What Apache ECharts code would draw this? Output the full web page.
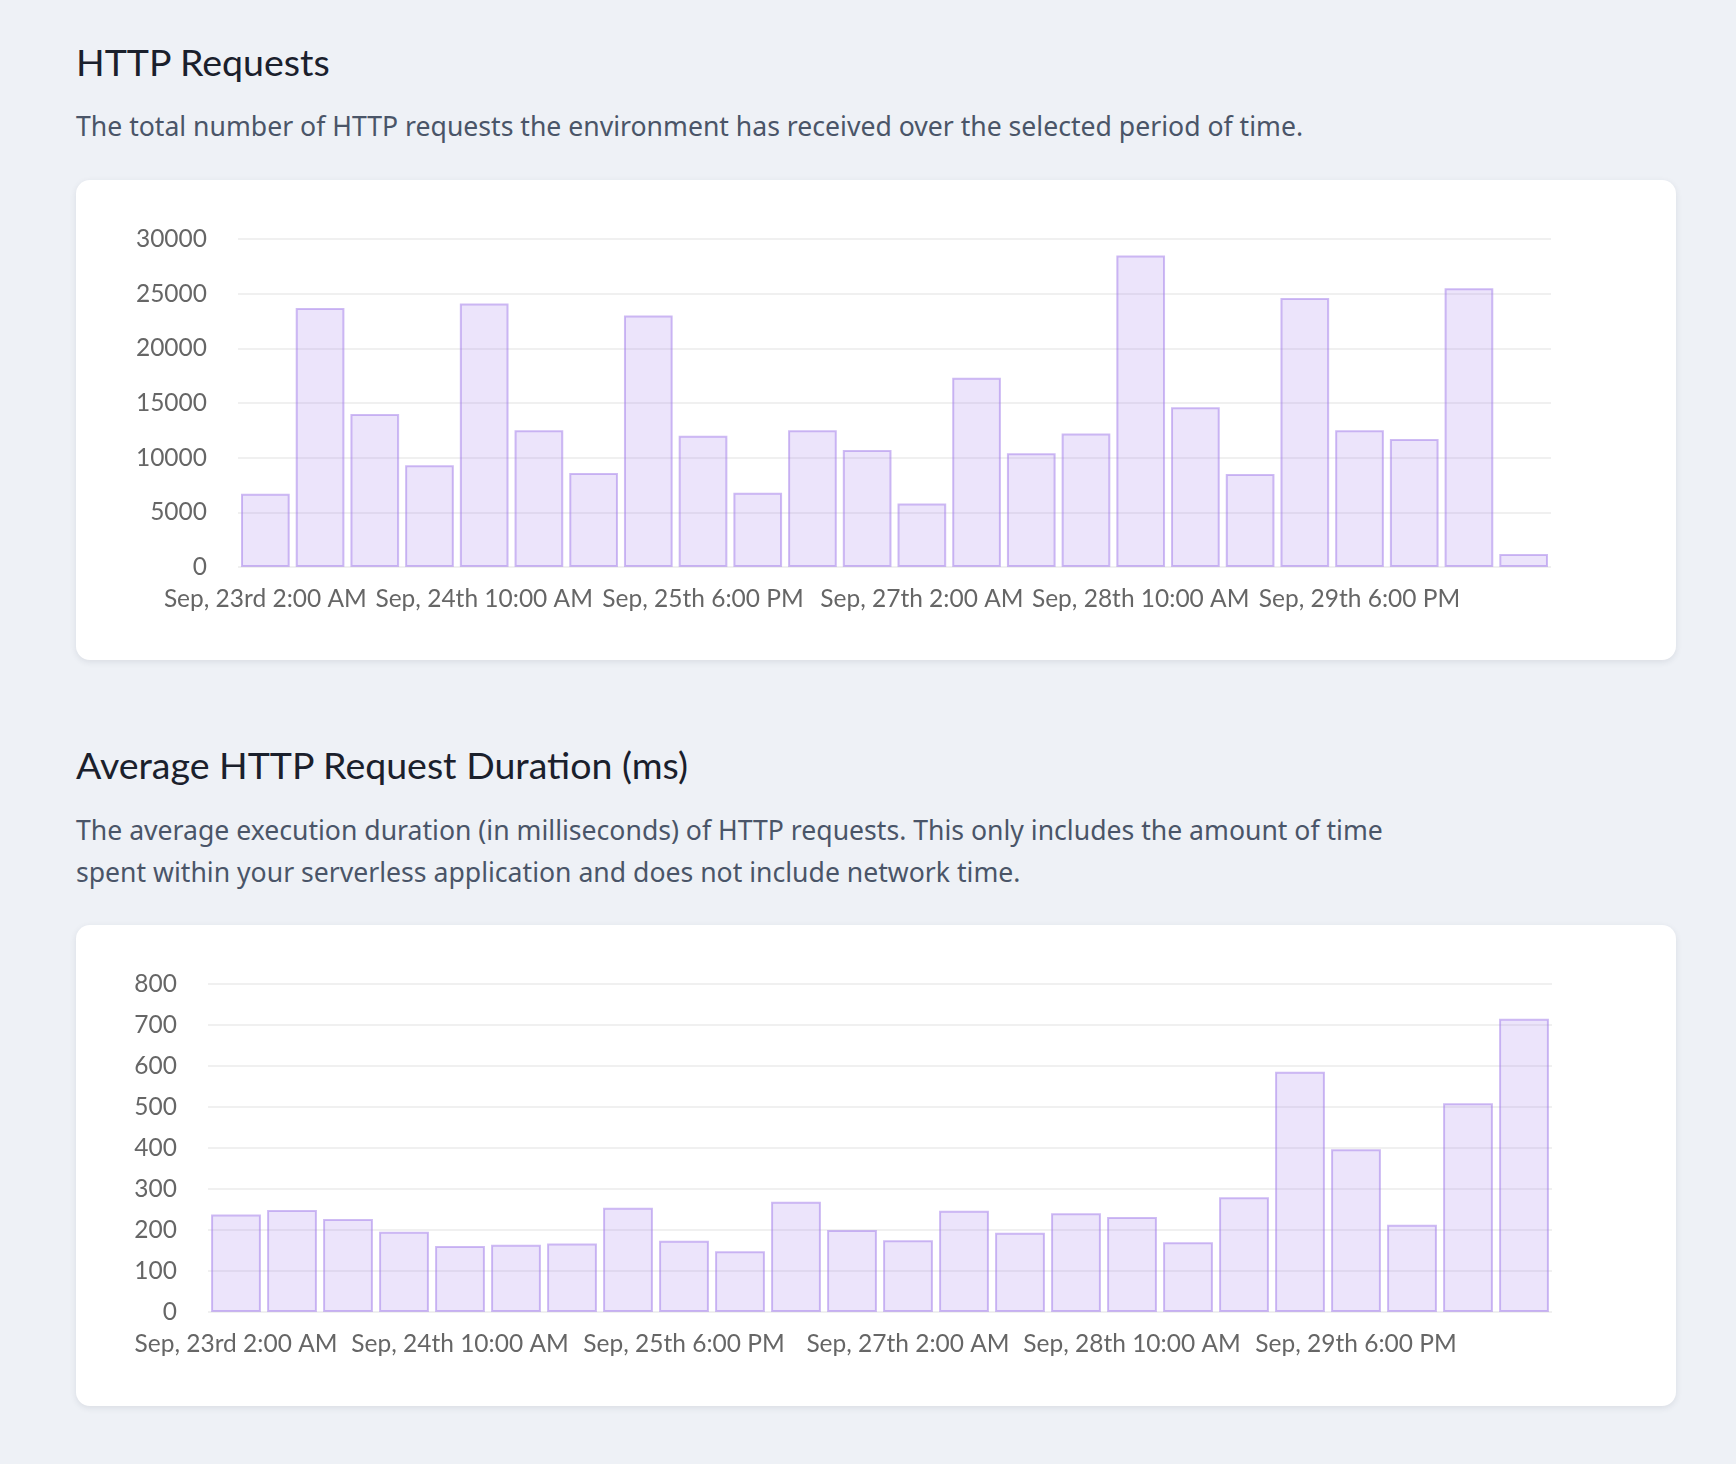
<!DOCTYPE html>
<html>
<head>
<meta charset="utf-8">
<script src="https://cdn.jsdelivr.net/npm/echarts/dist/echarts.min.js"></script>
<style>
  body { margin: 0; background: #eef1f6; font-family: Lato, "Noto Sans", sans-serif; }
  .page { position: relative; width: 1736px; height: 1464px; }
  .title { position: absolute; left: 76px; font-size: 37.5px; line-height: 44px; color: #1a202c; white-space: nowrap; }
  .desc { position: absolute; left: 76px; font-family: "Noto Sans", sans-serif; font-size: 26.6px; line-height: 42px; color: #4a5568; white-space: nowrap; }
  .card { position: absolute; left: 76px; width: 1600px; background: #fff; border-radius: 14px;
          box-shadow: 0 2px 6px rgba(40, 50, 70, 0.10); }
</style>
</head>
<body>
<div class="page">
  <div class="title" style="top:40px">HTTP Requests</div>
  <div class="desc" style="top:105px">The total number of HTTP requests the environment has received over the selected period of time.</div>
  <div class="card" id="requests_chart" style="top:180px;height:480px"></div>

  <div class="title" style="top:743px">Average HTTP Request Duration (ms)</div>
  <div class="desc" style="top:809px">The average execution duration (in milliseconds) of HTTP requests. This only includes the amount of time<br>spent within your serverless application and does not include network time.</div>
  <div class="card" id="duration_chart" style="top:925px;height:481px"></div>
</div>
<script>
// 8 hour buckets
const categories = [
  'Sep, 23rd 2:00 AM', 'Sep, 23rd 10:00 AM', 'Sep, 23rd 6:00 PM',
  'Sep, 24th 2:00 AM', 'Sep, 24th 10:00 AM', 'Sep, 24th 6:00 PM',
  'Sep, 25th 2:00 AM', 'Sep, 25th 10:00 AM', 'Sep, 25th 6:00 PM',
  'Sep, 26th 2:00 AM', 'Sep, 26th 10:00 AM', 'Sep, 26th 6:00 PM',
  'Sep, 27th 2:00 AM', 'Sep, 27th 10:00 AM', 'Sep, 27th 6:00 PM',
  'Sep, 28th 2:00 AM', 'Sep, 28th 10:00 AM', 'Sep, 28th 6:00 PM',
  'Sep, 29th 2:00 AM', 'Sep, 29th 10:00 AM', 'Sep, 29th 6:00 PM',
  'Sep, 30th 2:00 AM', 'Sep, 30th 10:00 AM', 'Sep, 30th 6:00 PM'
];
const requests = [6700, 23700, 14000, 9300, 24100, 12500, 8600, 23000, 12000, 6800, 12500, 10700,
                  5800, 17300, 10400, 12200, 28500, 14600, 8500, 24600, 12500, 11700, 25500, 1200];
const durations = [238, 249, 227, 196, 161, 164, 167, 254, 174, 148, 269, 200,
                   175, 247, 193, 241, 232, 170, 280, 586, 397, 213, 509, 715];

const labelColor = '#666666';
const labelFont = 'Lato, "Noto Sans", sans-serif';

function barOption(values, yMax, yStep, grid) {
  return {
    animation: false,
    grid: grid,
    xAxis: {
      type: 'category',
      data: categories,
      axisLine: { show: false },
      axisTick: { show: false },
      axisLabel: { interval: 3, color: labelColor, fontSize: 24.5, fontFamily: labelFont, margin: 20 },
      splitLine: { show: false }
    },
    yAxis: {
      type: 'value',
      min: 0,
      max: yMax,
      interval: yStep,
      axisLine: { show: false },
      axisTick: { show: false },
      axisLabel: { color: labelColor, fontSize: 24.5, fontFamily: labelFont, margin: 31,
                   formatter: function (v) { return String(v); } },
      splitLine: { lineStyle: { color: 'rgba(0,0,0,0.06)', width: 2 } }
    },
    series: [{
      type: 'bar',
      data: values,
      barCategoryGap: '11%',
      itemStyle: {
        color: 'rgba(159,122,234,0.2)',
        borderColor: 'rgba(159,122,234,0.5)',
        borderWidth: 2
      }
    }]
  };
}

let chartA = echarts.init(document.getElementById('requests_chart'));
chartA.setOption(barOption(requests, 30000, 5000, { left: 162, right: 125, top: 59, bottom: 93 }));

let chartB = echarts.init(document.getElementById('duration_chart'));
chartB.setOption(barOption(durations, 800, 100, { left: 132, right: 124, top: 59, bottom: 94 }));
</script>
</body>
</html>
